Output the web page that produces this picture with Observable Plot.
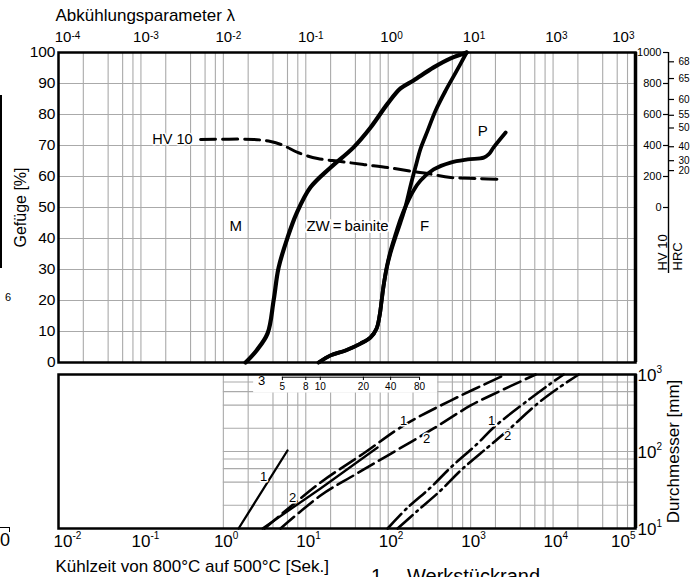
<!DOCTYPE html>
<html><head><meta charset="utf-8">
<script src="https://cdn.jsdelivr.net/npm/d3@7"></script>
<script src="https://cdn.jsdelivr.net/npm/@observablehq/plot@0.6"></script>
<style>
html,body{margin:0;padding:0;background:#fff;overflow:hidden;}
#wrap{position:relative;width:698px;height:577px;overflow:hidden;font-family:"Liberation Sans",Arial,sans-serif;}
#wrap svg{position:absolute;left:0;background:transparent;}
.rem{position:absolute;color:#000;}
</style></head><body><div id="wrap"></div>
<script>
// ---------- axis ticks / labels ----------
const lambdaTicks = [1e-4, 1e-3, 1e-2, 1e-1, 1, 10, 100, 1000];
const lambdaExp   = ["-4", "-3", "-2", "-1", "0", "1", "3", "3"];
const timeTicks   = [1e-2, 1e-1, 1, 10, 100, 1000, 1e4, 1e5];
const timeExp     = ["-2", "-1", "0", "1", "2", "3", "4", "5"];
const pctTicks    = [0, 10, 20, 30, 40, 50, 60, 70, 80, 90, 100];
const hvTicks     = [0, 200, 400, 600, 800, 1000];
const hrcLabels   = [68, 65, 60, 55, 50, 40, 30, 20];
const hrcAsHV     = [940, 832, 697, 595, 513, 392, 302, 238];
const diamTicks   = [10, 100, 1000];
const diamExp     = ["1", "2", "3"];
const gridMult    = [1, 2, 4, 6, 8];
const diamGrid    = [20, 40, 60, 80, 100, 200, 400, 600, 800];
const insetLabels = [5, 8, 10, 20, 40, 80];
const insetTime   = [5.2, 10, 15, 50, 107, 240];

// ---------- top panel: Gefüge [%] vs lambda ----------
const mLambda = [0.0186,0.0253,0.0344,0.0407,0.0468,0.0601,0.0773,0.114,0.200,0.380,0.611,0.984,1.41,2.03,3.56,5.72,8.94];
const mPct    = [0,3.9,9.4,20,30.6,40.3,48.1,56.5,62.9,69.4,75.8,83.5,88.4,91,95.2,98.1,100];
const fLambda = [0.143,0.200,0.304,0.462,0.611,0.723,0.787,0.832,0.879,0.956,1.07,1.23,1.41,1.63,1.87,2.15,2.47,3.01,3.76,4.97,6.58,8.94];
const fPct    = [0,2.3,3.9,6.1,8.1,11.0,15.2,20,24.8,30.3,35.5,40.6,45.2,50.6,57.1,63.2,69.0,74.8,81.3,87.7,93.5,100];
const pLambda = [0.143,0.200,0.304,0.462,0.611,0.723,0.787,0.832,0.879,0.96,1.08,1.25,1.42,1.67,2.03,2.47,3.56,5.72,9.20,14.4,16.5,19.0,26.6];
const pPct    = [0,2.3,3.9,6.1,8.1,11.0,15.2,20,24.8,30.8,36.5,42,46.5,51,55.5,58.7,62.3,64.5,65.5,66.1,67.1,69.4,74.2];
const hvLambda = [0.00529,0.0233,0.0374,0.0538,0.0795,0.139,0.264,0.503,0.984,2.03,3.01,5.72,12.2,25.1];
const hvValue  = [439,439,426,400,355,316,297,277,258,232,219,194,187,181];

const hvLabel = "HV 10", hvLabelLambda = 0.00423, hvLabelPct = 71.9;
const topLabels = ["M", "ZW\u2009=\u2009bainite", "F", "P"];
const topLabelLambda = [0.0141, 0.321, 2.77, 14.0];
const topLabelPct = [43.9, 43.9, 43.9, 74.5];

// ---------- bottom panel: Durchmesser vs Kühlzeit ----------
const s1Time = [1.53, 6.0],            s1Diam = [10, 103];
const s2Time = [2.99, 15.1, 74.3],     s2Diam = [10, 33.1, 112.7];
const d1Time = [3.16, 15.1, 50.1, 154, 572, 2660], d1Diam = [10, 39.6, 94.2, 218, 459, 1000];
const d2Time = [4.94, 15.1, 38.0, 98.4, 356, 1000, 1750, 6150], d2Diam = [10, 26.8, 48.8, 88.7, 199, 396, 534, 1000];
const a1Time = [98.4, 172, 327, 572, 1216, 1900, 4920, 9350, 13460], a1Diam = [10, 18.7, 34.1, 61.9, 127, 205, 459, 764, 1000];
const a2Time = [130, 228, 433, 757, 1607, 2810, 6500, 11380, 20500], a2Diam = [10, 17.1, 31.2, 56.7, 113, 187, 420, 658, 1000];

const botLabels = ["1", "2", "1", "2", "1", "2"];
const botLabelTime = [3.08, 6.92, 154, 292, 1800, 2810];
const botLabelDiam = [47.3, 25.3, 253, 147, 253, 161];

// ---------- helpers ----------
const FONT = "Liberation Sans";
const zipXY = (xs, ys) => xs.map((x, i) => [x, ys[i]]);
const hvToPct = h => 50 + h / 20;
function powLabels(ticks, exps, yVal, o) {
  const n = ticks.length, out = [];
  const groups = [[0, 1, o.first], [1, n - 1, o.mid], [n - 1, n, o.last]];
  for (const [a, b, s] of groups) {
    const idx = d3.range(a, b);
    out.push(Plot.text(idx, {x: i => ticks[i], y: () => yVal, text: () => "10", dx: s, dy: o.baseDy,
      fontSize: o.baseSize, textAnchor: "middle", fontFamily: FONT, fill: "black"}));
    out.push(Plot.text(idx, {x: i => ticks[i], y: () => yVal, text: i => exps[i], dx: s + o.half, dy: o.expDy,
      fontSize: o.expSize, textAnchor: "start", fontFamily: FONT, fill: "black"}));
  }
  return out;
}
const GRID = {stroke: "#aaa", strokeWidth: 1.1};

// ---------- top plot ----------
const topGridX = d3.range(-4, 3).flatMap(e => gridMult.map(k => k * Math.pow(10, e))).concat([1000]);
const hrcMap = new Map(hrcAsHV.map((h, i) => [hvToPct(h), hrcLabels[i]]));

const topPlot = Plot.plot({
  width: 698, height: 370, marginLeft: 58, marginRight: 63, marginTop: 52, marginBottom: 8,
  x: {type: "log", domain: [1e-4, 1e3], axis: null},
  y: {domain: [0, 100], axis: null},
  style: {fontFamily: FONT, background: "transparent", overflow: "visible", color: "black"},
  marks: [
    Plot.ruleX(topGridX, GRID),
    Plot.ruleY(pctTicks, GRID),
    Plot.frame({stroke: "black", strokeWidth: 2.5}),
    Plot.ruleX([1000], {stroke: "black", strokeWidth: 3.5}),
    // curves
    Plot.line(zipXY(hvLambda, hvValue), {x: d => d[0], y: d => hvToPct(d[1]), curve: "catmull-rom",
      stroke: "black", strokeWidth: 3, strokeDasharray: "15,7"}),
    Plot.line(zipXY(mLambda, mPct), {x: d => d[0], y: d => d[1], curve: "catmull-rom", stroke: "black", strokeWidth: 4.2}),
    Plot.line(zipXY(fLambda, fPct), {x: d => d[0], y: d => d[1], curve: "catmull-rom", stroke: "black", strokeWidth: 3.8}),
    Plot.line(zipXY(pLambda, pPct), {x: d => d[0], y: d => d[1], curve: "catmull-rom", stroke: "black", strokeWidth: 3.8}),
    // in-plot labels
    Plot.text([hvLabel], {x: () => hvLabelLambda, y: () => hvLabelPct, text: d => d, textAnchor: "end",
      fontSize: 14.5, fontFamily: FONT, fill: "black", stroke: "white", strokeWidth: 3}),
    Plot.text(d3.range(topLabels.length), {x: i => topLabelLambda[i], y: i => topLabelPct[i], text: i => topLabels[i],
      textAnchor: "middle", fontSize: 15, fontFamily: FONT, fill: "black", stroke: "white", strokeWidth: 4}),
    // left axis labels
    Plot.text(pctTicks, {x: () => 1e-4, y: d => d, text: d => String(d), textAnchor: "end", dx: -3, dy: 0,
      fontSize: 15.5, fontFamily: FONT, fill: "black"}),
    Plot.text(["Gefüge [%]"], {x: () => 1e-4, y: () => 50, text: d => d, rotate: -90, dx: -38,
      fontSize: 16, fontFamily: FONT, fill: "black"}),
    // top axis
    ...powLabels(lambdaTicks, lambdaExp, 100, {first: 4.5, mid: 0.5, last: -15, half: 8.5,
      baseDy: -15, expDy: -16.5, baseSize: 15, expSize: 10}),
    Plot.text(["Abkühlungsparameter λ"], {x: () => 1e-4, y: () => 100, text: d => d, textAnchor: "start",
      dx: -3, dy: -37, fontSize: 17, fontFamily: FONT, fill: "black"}),
    // HV / HRC secondary axis
    Plot.ruleX([1000], {y1: 28.7, y2: 100, dx: 33, stroke: "black", strokeWidth: 1.4}),
    Plot.axisY({ticks: hvTicks.map(hvToPct), anchor: "left", dx: 610, tickSize: 5, tickPadding: 2,
      tickFormat: d => String(Math.round((d - 50) * 20)), label: null, fontSize: 11, fontFamily: FONT,
      stroke: "black", fill: "black", strokeWidth: 1.2}),
    Plot.axisY({ticks: hrcAsHV.map(hvToPct), anchor: "right", dx: 33, tickSize: 5, tickPadding: 5,
      tickFormat: d => String(hrcMap.get(d)), label: null, fontSize: 10, fontFamily: FONT,
      stroke: "black", fill: "black", strokeWidth: 1.2}),
    Plot.text(["HV 10"], {x: () => 1000, y: () => 29.7, text: d => d, rotate: -90, textAnchor: "start",
      dx: 27, fontSize: 13, fontFamily: FONT, fill: "black"}),
    Plot.text(["HRC"], {x: () => 1000, y: () => 29.7, text: d => d, rotate: -90, textAnchor: "start",
      dx: 42, fontSize: 13, fontFamily: FONT, fill: "black"})
  ]
});
topPlot.style.top = "0px";

// ---------- bottom plot ----------
const botGridX = d3.range(0, 5).flatMap(e => gridMult.map(k => k * Math.pow(10, e)));
const botPlot = Plot.plot({
  width: 698, height: 209, marginLeft: 58, marginRight: 63, marginTop: 6, marginBottom: 49,
  x: {type: "log", domain: [1e-2, 1e5], axis: null},
  y: {type: "log", domain: [10, 1000], axis: null},
  style: {fontFamily: FONT, background: "transparent", overflow: "visible", color: "black"},
  marks: [
    Plot.ruleX(botGridX, {...GRID, y1: 10, y2: 1000}),
    Plot.ruleY(diamGrid, {...GRID, x1: 1, x2: 1e5}),
    // white inset box with auxiliary scale 3
    Plot.rect([0], {x1: () => 2.33, x2: () => 398, y1: () => 575, y2: () => 1000, fill: "white"}),
    Plot.ruleY([922], {x1: insetTime[0], x2: insetTime[insetTime.length - 1], stroke: "black", strokeWidth: 1}),
    Plot.ruleX(insetTime, {y1: 922, y2: 835, stroke: "black", strokeWidth: 1}),
    Plot.text(insetTime, {x: d => d, y: () => 700, text: (d, i) => String(insetLabels[i]), fontSize: 10, fontFamily: FONT, fill: "black"}),
    Plot.text(["3"], {x: () => 2.91, y: () => 840, text: d => d, fontSize: 13, fontFamily: FONT, fill: "black"}),
    Plot.frame({stroke: "black", strokeWidth: 2.5}),
    Plot.ruleX([1e5], {stroke: "black", strokeWidth: 3.5}),
    // curves
    Plot.line(zipXY(s1Time, s1Diam), {x: d => d[0], y: d => d[1], stroke: "black", strokeWidth: 2.3}),
    Plot.line(zipXY(s2Time, s2Diam), {x: d => d[0], y: d => d[1], stroke: "black", strokeWidth: 2.3}),
    Plot.line(zipXY(d1Time, d1Diam), {x: d => d[0], y: d => d[1], curve: "catmull-rom", stroke: "black", strokeWidth: 2.6, strokeDasharray: "18,6"}),
    Plot.line(zipXY(d2Time, d2Diam), {x: d => d[0], y: d => d[1], curve: "catmull-rom", stroke: "black", strokeWidth: 2.6, strokeDasharray: "18,6"}),
    Plot.line(zipXY(a1Time, a1Diam), {x: d => d[0], y: d => d[1], curve: "catmull-rom", stroke: "black", strokeWidth: 2.6, strokeDasharray: "20,5,2,5"}),
    Plot.line(zipXY(a2Time, a2Diam), {x: d => d[0], y: d => d[1], curve: "catmull-rom", stroke: "black", strokeWidth: 2.6, strokeDasharray: "20,5,2,5"}),
    Plot.text(d3.range(botLabels.length), {x: i => botLabelTime[i], y: i => botLabelDiam[i], text: i => botLabels[i],
      fontSize: 13, fontFamily: FONT, fill: "black", stroke: "white", strokeWidth: 3}),
    // bottom axis
    ...powLabels(timeTicks, timeExp, 10, {first: 4.5, mid: 0, last: -15, half: 9.5,
      baseDy: 13, expDy: 7.5, baseSize: 17, expSize: 10}),
    Plot.text(["Kühlzeit von 800°C auf 500°C [Sek.]"], {x: () => 1e-2, y: () => 10, text: d => d, textAnchor: "start",
      dx: -3, dy: 38, fontSize: 17, fontFamily: FONT, fill: "black"}),
    // right axis
    Plot.text(diamTicks, {x: () => 1e5, y: d => d, text: () => "10", textAnchor: "start", dx: 2, dy: 1, fontSize: 17, fontFamily: FONT, fill: "black"}),
    Plot.text(diamTicks, {x: () => 1e5, y: d => d, text: (d, i) => diamExp[i], textAnchor: "start", dx: 21, dy: -5, fontSize: 10, fontFamily: FONT, fill: "black"}),
    Plot.text(["Durchmesser [mm]"], {x: () => 1e5, y: () => 100, text: d => d, rotate: -90, dx: 38,
      fontSize: 17, fontFamily: FONT, fill: "black"})
  ]
});
botPlot.style.top = "368px";

const wrap = document.getElementById("wrap");
wrap.appendChild(topPlot);
wrap.appendChild(botPlot);

// remnants of neighbouring figure at the page edges
const rems = [
  '<div style="position:absolute;left:0;top:95px;width:1.5px;height:173px;background:#000"></div>',
  '<div class="rem" style="left:5px;top:291px;font-size:11px">6</div>',
  '<div style="position:absolute;left:0;top:527px;width:10px;height:5px;border-top:1.5px solid #000;border-right:1.5px solid #000;box-sizing:border-box"></div>',
  '<div class="rem" style="left:0px;top:530px;font-size:18px">0</div>',
  '<div class="rem" style="left:371px;top:565px;font-size:20px">1</div>',
  '<div class="rem" style="left:407px;top:565px;font-size:20px">Werkstückrand</div>'
];
wrap.insertAdjacentHTML("beforeend", rems.join(""));
</script></body></html>
